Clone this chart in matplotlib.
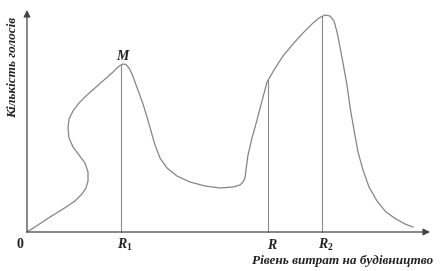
import matplotlib.pyplot as plt

plt.rcParams['mathtext.fontset'] = 'custom'
plt.rcParams['mathtext.it'] = 'Liberation Serif:italic:bold'
plt.rcParams['mathtext.rm'] = 'Liberation Serif:bold'

# curve (abstract units, origin at 0)
curve_x = [0, 11, 23, 36, 48, 55, 59, 61, 61, 58, 52, 46, 42, 41, 42, 46, 52, 60, 68, 77, 85,
           90, 93, 96, 99, 102, 105, 108, 112, 116, 120, 124, 128, 133, 140, 150, 163, 178, 193, 206, 213,
           216, 218, 219, 221, 225, 230, 235, 240, 247, 256, 266, 276, 285, 292, 298, 303, 307, 310, 313, 316,
           320, 323, 327, 331, 336, 342, 350, 359, 369, 378, 386]
curve_y = [0, 7, 15, 23, 31, 38, 44, 51, 60, 69, 77, 85, 94, 104, 113, 121, 129, 137, 144, 152, 159,
           164, 166.5, 168, 167.5, 164, 158, 150, 139, 128, 115, 101, 87, 74, 64, 56, 50, 46, 44, 45, 47,
           50, 54, 62, 77, 94, 112, 131, 150, 162, 176, 188, 199, 208, 214, 217, 216, 211, 200, 185, 169,
           147, 125, 102, 80, 62, 45, 31, 20, 13, 8, 5]

# marked levels on the x axis and curve height there
levels = ['$R_1$', '$R$', '$R_2$']
level_x = [94, 241, 295]
level_y = [167, 152, 216]

x_end, y_end = 403, 222

fig = plt.figure(figsize=(4.41, 2.71), dpi=100)
ax = fig.add_axes([0, 0, 1, 1])
ax.set_xlim(-27, 414)
ax.set_ylim(-39, 232)
ax.axis('off')

# axes with arrows
ax.annotate('', xy=(x_end, 0), xytext=(0, 0),
            arrowprops=dict(arrowstyle='-|>', color='#444444', lw=0.9,
                            mutation_scale=10, shrinkA=0, shrinkB=0))
ax.annotate('', xy=(0, y_end), xytext=(0, 0),
            arrowprops=dict(arrowstyle='-|>', color='#444444', lw=0.9,
                            mutation_scale=10, shrinkA=0, shrinkB=0))

ax.plot(curve_x, curve_y, color='#858585', lw=0.9, solid_joinstyle='round')

for lab, lx, ly in zip(levels, level_x, level_y):
    ax.plot([lx, lx], [0, ly], color='#8a8a8a', lw=0.8)
    ax.text(lx + 4, -13, lab, fontsize=10, ha='center', va='center', color='#222222')

ax.text(-7, -12, '0', fontsize=10, fontweight='bold', family='Liberation Serif',
        ha='center', va='center', color='#222222')
ax.text(level_x[0] + 1, 175, 'M', fontsize=10, fontweight='bold', style='italic',
        family='Liberation Serif', ha='center', va='center', color='#222222')

ax.text(316, -29, 'Рівень витрат на будівництво', fontsize=9.5, fontweight='bold',
        style='italic', family='Liberation Serif', ha='center', va='center', color='#222222')
ax.text(-14, 165, 'Кількість голосів', fontsize=9.5, fontweight='bold', style='italic',
        family='Liberation Serif', rotation=90, ha='center', va='center', color='#222222')

fig.savefig('out.png', dpi=100)
